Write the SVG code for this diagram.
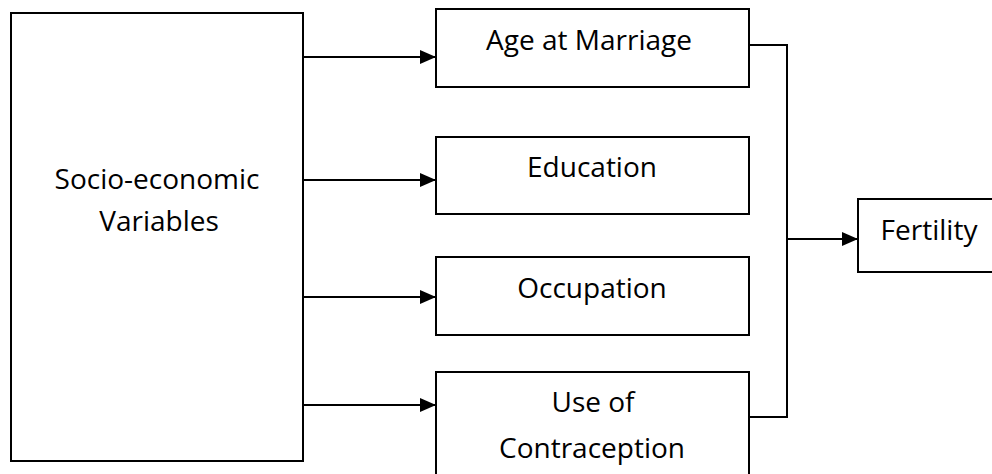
<svg xmlns="http://www.w3.org/2000/svg" width="992" height="474" viewBox="0 0 992 474">
<style>
.box{fill:#fff;stroke:#000;stroke-width:2}
.lbl{font-family:"Open Sans","Noto Sans",sans-serif;font-size:28px;fill:#000;text-anchor:middle}
.con{fill:none;stroke:#000;stroke-width:2}
</style>
<defs>
<marker id="ah" viewBox="0 0 16 14" refX="16" refY="7" markerWidth="16" markerHeight="14" markerUnits="userSpaceOnUse" orient="auto">
<path d="M0,0 L16,7 L0,14 Z" fill="#000"/>
</marker>
</defs>
<rect width="992" height="474" fill="#fff"/>
<g id="socio">
<rect class="box" x="11" y="13" width="292" height="448"/>
<text class="lbl" x="157" y="189">Socio-economic</text>
<text class="lbl" x="159" y="231">Variables</text>
</g>
<g id="age">
<rect class="box" x="436" y="9" width="313" height="78"/>
<text class="lbl" x="589" y="50">Age at Marriage</text>
</g>
<g id="education">
<rect class="box" x="436" y="137" width="313" height="77"/>
<text class="lbl" x="592" y="177">Education</text>
</g>
<g id="occupation">
<rect class="box" x="436" y="257" width="313" height="78"/>
<text class="lbl" x="592" y="298">Occupation</text>
</g>
<g id="contraception">
<rect class="box" x="436" y="372" width="313" height="120"/>
<text class="lbl" x="593" y="412">Use of</text>
<text class="lbl" x="592" y="458">Contraception</text>
</g>
<g id="fertility">
<rect class="box" x="858" y="199" width="150" height="73"/>
<text class="lbl" x="929" y="240">Fertility</text>
</g>
<g id="connectors">
<line class="con" x1="303" y1="57" x2="436" y2="57" marker-end="url(#ah)"/>
<line class="con" x1="303" y1="180" x2="436" y2="180" marker-end="url(#ah)"/>
<line class="con" x1="303" y1="297" x2="436" y2="297" marker-end="url(#ah)"/>
<line class="con" x1="303" y1="405" x2="436" y2="405" marker-end="url(#ah)"/>
<polyline class="con" points="749,45 787,45 787,417 749,417"/>
<line class="con" x1="787" y1="239" x2="858" y2="239" marker-end="url(#ah)"/>
</g>
</svg>
